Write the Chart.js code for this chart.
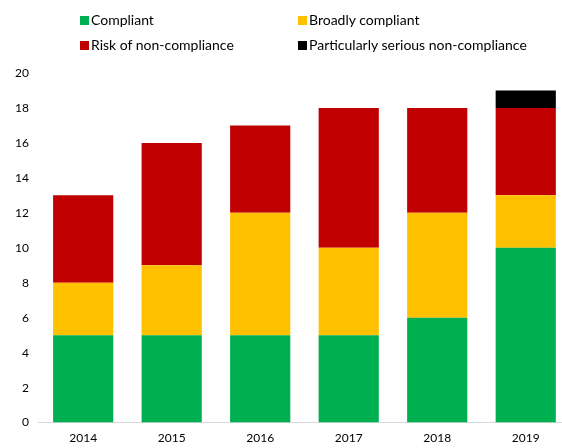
<!DOCTYPE html>
<html>
<head>
<meta charset="utf-8">
<script src="https://cdn.jsdelivr.net/npm/chart.js@4/dist/chart.umd.min.js"></script>
<style>
  html, body { margin: 0; padding: 0; background: #fff; overflow: hidden; }
  #wrap { position: relative; width: 562px; height: 448px; overflow: hidden; }
  #legend { position: absolute; left: 0; top: 0; width: 562px; height: 60px; font-family: Lato, "Open Sans", sans-serif; font-size: 14px; line-height: 18px; color: #000; }
  .item { position: absolute; display: flex; align-items: center; white-space: nowrap; height: 18px; }
  .sw { width: 9px; height: 9px; margin-right: 2px; }
  canvas { position: absolute; left: 0; top: 0; }
</style>
</head>
<body>
<div id="wrap">
  <canvas id="c" width="570" height="453"></canvas>
  <div id="legend"></div>
</div>
<script>
const years = ['2014', '2015', '2016', '2017', '2018', '2019'];
const compliant = [5, 5, 5, 5, 6, 10];
const broadlyCompliant = [3, 4, 7, 5, 6, 3];
const riskOfNonCompliance = [5, 7, 5, 8, 6, 5];
const seriousNonCompliance = [0, 0, 0, 0, 0, 1];
const yTicks = [0, 2, 4, 6, 8, 10, 12, 14, 16, 18, 20];

const seriesNames = ['Compliant', 'Broadly compliant', 'Risk of non-compliance', 'Particularly serious non-compliance'];
const seriesColors = ['#00B050', '#FFC000', '#C00000', '#000000'];
const seriesData = [compliant, broadlyCompliant, riskOfNonCompliance, seriousNonCompliance];

// legend laid out in two columns, two rows
const legendPos = [[80, 11], [298, 11], [80, 36], [298, 36]];
const legend = document.getElementById('legend');
seriesNames.forEach((name, i) => {
  const el = document.createElement('div');
  el.className = 'item';
  el.style.left = legendPos[i][0] + 'px';
  el.style.top = legendPos[i][1] + 'px';
  el.innerHTML = '<span class="sw" style="background:' + seriesColors[i] + '"></span><span>' + name + '</span>';
  legend.appendChild(el);
});

new Chart(document.getElementById('c'), {
  type: 'bar',
  data: {
    labels: years,
    datasets: seriesNames.map((name, i) => ({
      label: name,
      data: seriesData[i],
      backgroundColor: seriesColors[i],
      borderWidth: 0,
      barPercentage: 0.68,
      categoryPercentage: 1.0
    }))
  },
  options: {
    responsive: false,
    animation: false,
    layout: { padding: { top: 73, right: 0, left: 5, bottom: 0 } },
    plugins: { legend: { display: false }, tooltip: { enabled: false } },
    scales: {
      x: {
        stacked: true,
        grid: { display: false, drawTicks: false },
        border: { display: true, color: '#d9d9d9', width: 1 },
        ticks: { color: '#000', font: { family: 'Lato, "Open Sans", sans-serif', size: 12 }, padding: 8 }
      },
      y: {
        stacked: true,
        min: 0,
        max: 20,
        afterBuildTicks: (axis) => { axis.ticks = yTicks.map(v => ({ value: v })); },
        grid: { display: false, drawTicks: false },
        border: { display: false },
        ticks: { color: '#000', font: { family: 'Lato, "Open Sans", sans-serif', size: 12 }, padding: 10 }
      }
    }
  }
});
</script>
</body>
</html>
